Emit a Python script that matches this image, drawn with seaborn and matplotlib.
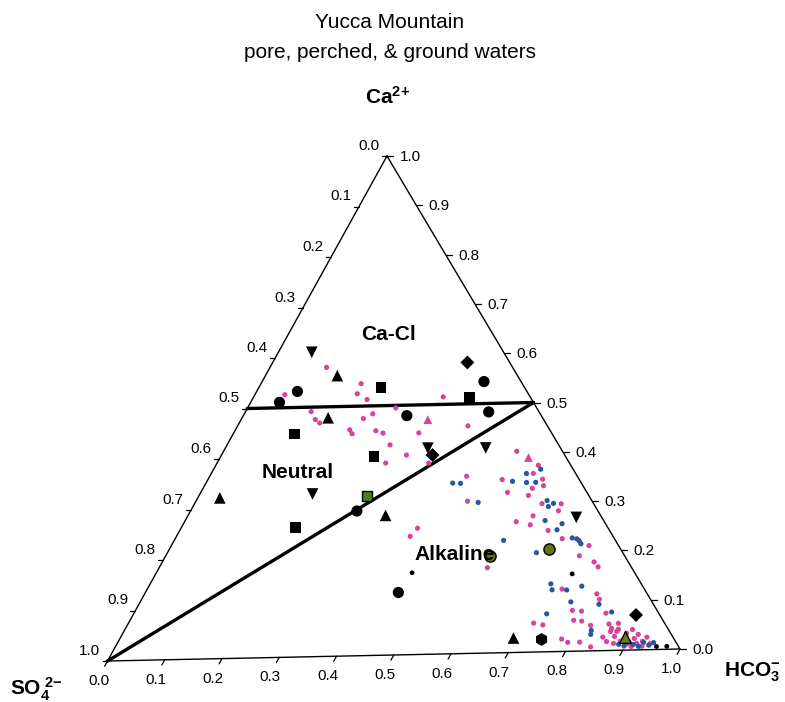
import numpy as np
import pandas as pd
import matplotlib
matplotlib.use("Agg")
import matplotlib.pyplot as plt
import seaborn as sns

sns.set_theme(style="white")
plt.rcParams['font.family'] = ['Liberation Sans', 'DejaVu Sans']
plt.rcParams['text.color'] = 'black'
plt.rcParams['mathtext.fontset'] = 'custom'
plt.rcParams['mathtext.rm'] = 'Liberation Sans'
plt.rcParams['mathtext.bf'] = 'Liberation Sans:bold'
plt.rcParams['mathtext.it'] = 'Liberation Sans:italic'

# ---------------- data (fractions of Ca2+ and HCO3-; SO4 = 1 - Ca - HCO3) -------------
TITLE = ["Yucca Mountain", "pore, perched, & ground waters"]
TICKS = [0.0, 0.1, 0.2, 0.3, 0.4, 0.5, 0.6, 0.7, 0.8, 0.9, 1.0]
REGIONS = ["Ca-Cl", "Neutral", "Alkaline"]

circle_ca = [0.532, 0.511, 0.479, 0.544, 0.483, 0.290, 0.125]
circle_hco3 = [0.072, 0.051, 0.289, 0.392, 0.430, 0.294, 0.447]
smalldot_ca = [0.155, 0.164, 0.006, 0.006]
smalldot_hco3 = [0.736, 0.452, 0.956, 0.974]
hexagon_ca = [0.025]
hexagon_hco3 = [0.746]
square_ca = [0.536, 0.512, 0.447, 0.398, 0.260]
square_hco3 = [0.216, 0.382, 0.109, 0.271, 0.201]
triup_ca = [0.562, 0.478, 0.322, 0.280, 0.029]
triup_hco3 = [0.127, 0.152, 0.039, 0.349, 0.695]
tridown_ca = [0.610, 0.411, 0.326, 0.268, 0.413]
tridown_hco3 = [0.059, 0.460, 0.199, 0.688, 0.358]
diamond_ca = [0.583, 0.399, 0.070]
diamond_hco3 = [0.344, 0.373, 0.889]
gsquare_ca = [0.319]
gsquare_hco3 = [0.297]
gcircle_ca = [0.206, 0.195]
gcircle_hco3 = [0.671, 0.573]
gtri_ca = [0.026]
gtri_hco3 = [0.891]

pink_ca = [0.579, 0.545, 0.525, 0.513, 0.526, 0.491, 0.475, 0.468, 0.453, 0.445,
           0.450, 0.445, 0.421, 0.495, 0.484, 0.475, 0.400, 0.385, 0.515, 0.444,
           0.456, 0.383, 0.355, 0.305, 0.253, 0.237, 0.347, 0.321, 0.262, 0.171,
           0.403, 0.374, 0.358, 0.346, 0.333, 0.328, 0.314, 0.297, 0.296, 0.282,
           0.273, 0.255, 0.243, 0.226, 0.211, 0.191, 0.178, 0.168, 0.125, 0.114,
           0.103, 0.080, 0.082, 0.075, 0.062, 0.060, 0.051, 0.058, 0.054, 0.025,
           0.018, 0.018, 0.008, 0.053, 0.044, 0.038,
           0.038, 0.028, 0.042, 0.018, 0.034, 0.013, 0.041, 0.023, 0.031, 0.017,
           0.025, 0.012, 0.014, 0.008, 0.027, 0.018, 0.007, 0.007, 0.054, 0.013]
pink_hco3 = [0.100, 0.177, 0.180, 0.203, 0.053, 0.116, 0.131, 0.142, 0.202, 0.210,
             0.249, 0.264, 0.288, 0.262, 0.227, 0.215, 0.327, 0.298, 0.335, 0.327,
             0.407, 0.374, 0.454, 0.480, 0.418, 0.413, 0.520, 0.542, 0.586, 0.580,
             0.518, 0.570, 0.569, 0.591, 0.599, 0.582, 0.582, 0.614, 0.648, 0.650,
             0.610, 0.614, 0.651, 0.684, 0.738, 0.731, 0.763, 0.775, 0.733, 0.799,
             0.809, 0.789, 0.772, 0.834, 0.784, 0.799, 0.819, 0.716, 0.734, 0.781,
             0.795, 0.816, 0.840, 0.850, 0.859, 0.871,
             0.860, 0.872, 0.872, 0.887, 0.890, 0.903, 0.897, 0.909, 0.912, 0.926,
             0.930, 0.942, 0.877, 0.898, 0.852, 0.863, 0.911, 0.930, 0.866, 0.918]
pinktri_ca = [0.470, 0.390]
pinktri_hco3 = [0.330, 0.545]

blue_ca = [0.342, 0.341, 0.302, 0.343, 0.225, 0.366, 0.358, 0.340, 0.340, 0.303,
           0.291, 0.297, 0.263, 0.256, 0.244, 0.227, 0.225, 0.221, 0.215, 0.199,
           0.136, 0.124, 0.123, 0.130, 0.099, 0.093, 0.076, 0.077, 0.041, 0.033,
           0.017, 0.011, 0.007, 0.015, 0.009, 0.014, 0.010, 0.012]
blue_hco3 = [0.436, 0.450, 0.500, 0.540, 0.582, 0.578, 0.557, 0.566, 0.582, 0.620,
             0.628, 0.634, 0.636, 0.669, 0.666, 0.701, 0.710, 0.716, 0.722, 0.652,
             0.708, 0.716, 0.742, 0.765, 0.761, 0.813, 0.730, 0.843, 0.825, 0.828,
             0.902, 0.913, 0.924, 0.929, 0.941, 0.947, 0.898, 0.887]

# ---------------- layout ----------------
V_CA = np.array([387.0, 156.0])     # top vertex
V_SO4 = np.array([107.5, 661.0])    # bottom-left vertex
V_HCO3 = np.array([680.0, 649.0])   # bottom-right vertex


def tern(ca, hco3):
    ca = np.asarray(ca, float)
    h = np.asarray(hco3, float)
    s = 1.0 - ca - h
    x = ca * V_CA[0] + s * V_SO4[0] + h * V_HCO3[0]
    y = ca * V_CA[1] + s * V_SO4[1] + h * V_HCO3[1]
    return x, y


fig = plt.figure(figsize=(7.85, 7.02), dpi=100)
ax = fig.add_axes([0, 0, 1, 1])

# triangle frame
fx, fy = tern([1, 0, 0, 1], [0, 0, 1, 0])
ax.plot(fx, fy, color="black", lw=1.0, zorder=2)

# classification lines
lx, ly = tern([0.5, 0.5], [0.0, 0.5])
ax.plot(lx, ly, color="black", lw=2.4, zorder=3)
dx, dy = tern([0.0, 0.5], [0.0, 0.5])
ax.plot(dx, dy, color="black", lw=2.4, zorder=3)

tick_kw = dict(fontsize=11, color="black", ha="center", va="center")
t = np.array(TICKS)
# left axis (SO4): 0 at top, 1 at bottom-left
x, y = tern(1 - t, 0 * t)
for xi, yi, v in zip(x, y, t):
    ax.plot([xi, xi - 5], [yi, yi], color="black", lw=0.9)
    ax.text(xi - 18, yi - 10, f"{v:.1f}", **tick_kw)
# bottom axis (HCO3)
x, y = tern(0 * t, t)
d = (V_SO4 - V_CA) / np.linalg.norm(V_SO4 - V_CA)
for xi, yi, v in zip(x, y, t):
    ax.plot([xi, xi + 6 * d[0]], [yi, yi + 6 * d[1]], color="black", lw=0.9)
    ax.text(xi - 9, yi + 20, f"{v:.1f}", **tick_kw)
# right axis (Ca)
x, y = tern(t, 1 - t)
for xi, yi, v in zip(x, y, t):
    ax.plot([xi, xi + 6], [yi, yi], color="black", lw=0.9)
    ax.text(xi + 23, yi + 1, f"{v:.1f}", **tick_kw)


def scat(ca, h, marker, size, color, edge="none", lw=0.0, z=4):
    xx, yy = tern(ca, h)
    df = pd.DataFrame({"x": xx, "y": yy})
    sns.scatterplot(data=df, x="x", y="y", ax=ax, marker=marker, s=size,
                    color=color, edgecolor=edge, linewidth=lw, legend=False,
                    zorder=z)


PINK = "#d8449a"
BLUE = "#27579c"
scat(pink_ca, pink_hco3, "o", 14, PINK, z=4)
scat(blue_ca, blue_hco3, "o", 14, BLUE, z=4)
scat(pinktri_ca, pinktri_hco3, "^", 40, PINK, z=4)
scat(smalldot_ca, smalldot_hco3, "o", 12, "black", z=5)
scat(circle_ca, circle_hco3, "o", 65, "black", z=5)
scat(hexagon_ca, hexagon_hco3, "h", 85, "black", z=5)
scat(square_ca, square_hco3, "s", 60, "black", z=5)
scat(triup_ca, triup_hco3, "^", 70, "black", z=5)
scat(tridown_ca, tridown_hco3, "v", 70, "black", z=5)
scat(diamond_ca, diamond_hco3, "D", 50, "black", z=5)
scat(gsquare_ca, gsquare_hco3, "s", 60, "#4f7d22", "black", 1.0, z=5)
scat(gcircle_ca, gcircle_hco3, "o", 65, "#66701c", "black", 1.0, z=5)
scat(gtri_ca, gtri_hco3, "^", 70, "#6d7a1e", "black", 1.0, z=5)

# text
ax.text(390, 22, TITLE[0], fontsize=15, ha="center", va="center")
ax.text(390, 53, TITLE[1], fontsize=15, ha="center", va="center")
ax.text(388, 97, r"$\mathbf{Ca^{2{+}}}$", fontsize=15, ha="center", va="center")
ax.text(36, 689, r"$\mathbf{SO_4^{\ 2{-}}}$", fontsize=15, ha="center", va="center")
ax.text(752, 672, r"$\mathbf{HCO_3^{-}}$", fontsize=15, ha="center", va="center")
ax.text(388, 334, REGIONS[0], fontsize=15, fontweight="bold", ha="center", va="center", zorder=6)
ax.text(298, 473, REGIONS[1], fontsize=15, fontweight="bold", ha="center", va="center", zorder=6)
ax.text(455, 555, REGIONS[2], fontsize=15, fontweight="bold", ha="center", va="center", zorder=6)

ax.set_xlim(0, 785)
ax.set_ylim(702, 0)
ax.axis("off")
fig.savefig("out.png", dpi=100, facecolor="white")
